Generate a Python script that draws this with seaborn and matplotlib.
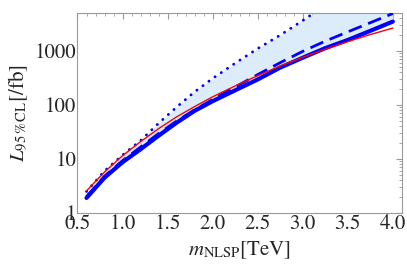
import matplotlib
matplotlib.use("Agg")
import matplotlib.pyplot as plt
import matplotlib.ticker as mticker
import seaborn as sns
import pandas as pd
import numpy as np

# Values (m_NLSP in TeV, L_95%CL in /fb)
m_nlsp = [0.6, 0.8, 1.0, 1.2, 1.4, 1.6, 1.8, 2.0, 2.25, 2.5, 2.75, 3.0, 3.25, 3.5, 3.75, 4.0]
L_solid = [1.9, 4.5, 8.7, 15.1, 26.9, 46.8, 77.6, 117, 186, 295, 490, 745, 1120, 1585, 2340, 3470]
L_dashed = [2.0, 4.8, 9.3, 16.6, 29.5, 50, 81, 126, 214, 363, 603, 977, 1510, 2240, 3310, 4900]
L_dotted = [2.5, 6.0, 11.8, 21.9, 45.7, 91, 174, 309, 589, 1100, 1950, 3630, 6900, 12600, 23000, 42000]
L_red = [2.57, 5.75, 11.5, 20.9, 36.3, 60, 93, 141, 224, 347, 525, 760, 1070, 1480, 2000, 2630]

x_ticks = [0.5, 1.0, 1.5, 2.0, 2.5, 3.0, 3.5, 4.0]
y_ticks = [1, 10, 100, 1000]

df = pd.DataFrame({"m": m_nlsp, "solid": L_solid, "dashed": L_dashed,
                   "dotted": L_dotted, "red": L_red})

sns.set_style("white")
plt.rcParams["font.family"] = ["STIXGeneral", "DejaVu Serif"]
plt.rcParams["mathtext.fontset"] = "stix"

fig = plt.figure(figsize=(4.07, 2.71), dpi=100)
ax = fig.add_axes([0.1904, 0.214, 0.797, 0.738])

blue = "#0000ff"
ax.fill_between(df["m"], df["solid"], df["dotted"], color="#dcecfb", lw=0, zorder=1)
sns.lineplot(data=df, x="m", y="solid", ax=ax, color=blue, lw=3.0, zorder=3)
sns.lineplot(data=df, x="m", y="dashed", ax=ax, color=blue, lw=2.0, zorder=3).lines[-1].set_dashes([5, 2.5])
l = sns.lineplot(data=df, x="m", y="dotted", ax=ax, color=blue, lw=2.0, zorder=3).lines[-1]
l.set_dashes([0.1, 2.6])
l.set_dash_capstyle("round")
sns.lineplot(data=df, x="m", y="red", ax=ax, color="#ff0000", lw=1.0, zorder=4)

ax.set_yscale("log")
ax.set_xlim(0.5, 4.1)
ax.set_ylim(1, 5000)
ax.set_xticks(x_ticks)
ax.set_xticklabels([f"{v:.1f}" for v in x_ticks])
ax.set_yticks(y_ticks)
ax.set_yticklabels([str(v) for v in y_ticks])
ax.xaxis.set_minor_locator(mticker.MultipleLocator(0.1))
ax.yaxis.set_minor_locator(mticker.LogLocator(base=10, subs=np.arange(2, 10)))
ax.yaxis.set_minor_formatter(mticker.NullFormatter())

for s in ax.spines.values():
    s.set_color("#9a9a9a")
    s.set_linewidth(0.8)
ax.tick_params(which="both", direction="in", top=True, right=True, color="#9a9a9a",
               labelsize=15, pad=1)
ax.tick_params(which="major", length=4, width=0.8)
ax.tick_params(which="minor", length=2, width=0.6)

ax.set_xlabel(r"$m_{\mathrm{NLSP}}$[TeV]", fontsize=15, labelpad=4)
ax.set_ylabel(r"$L_{95\,\%\,\mathrm{CL}}$[/fb]", fontsize=15, labelpad=3)

fig.savefig("out.png", dpi=100)
